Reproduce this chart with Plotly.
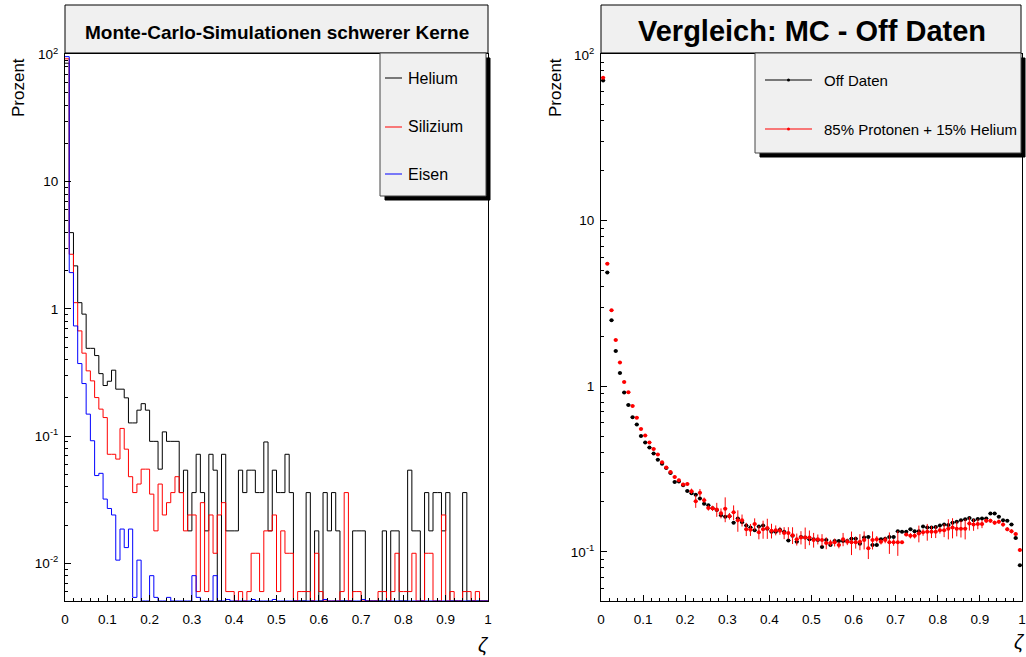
import plotly.graph_objects as go

W, H = 1026, 657

# ---------------- data (percent per bin, 100 bins of width 0.01 in zeta) ----------------
helium = [85.5, 3.98, 2.18, 1.12, 0.91, 0.49, 0.49, 0.43, 0.31, 0.25,
          0.27, 0.33, 0.234, 0.234, 0.20, 0.127, 0.127, 0.16, 0.18, 0.16,
          0.091, 0.091, 0.055, 0.108, 0.091, 0.091, 0.091, 0.036, 0.054, 0.018,
          0.036, 0.072, 0.036, 0.018, 0.072, 0.054, 0.0, 0.072, 0.018, 0.018,
          0.018, 0.054, 0.036, 0.054, 0.054, 0.036, 0.036, 0.090, 0.018, 0.054,
          0.036, 0.036, 0.072, 0.036, 0.0, 0.0, 0.0, 0.036, 0.0, 0.018,
          0.0, 0.036, 0.018, 0.036, 0.018, 0.0, 0.0, 0.0, 0.018, 0.018,
          0.018, 0.0, 0.0, 0.0, 0.0, 0.018, 0.0, 0.018, 0.018, 0.0,
          0.0, 0.054, 0.018, 0.018, 0.0, 0.036, 0.018, 0.036, 0.036, 0.018,
          0.036, 0.0, 0.0, 0.0, 0.036, 0.0, 0.0, 0.0, 0.0, 0.0]

silizium = [92.5, 2.69, 1.12, 0.672, 0.449, 0.326, 0.272, 0.201, 0.163, 0.14,
            0.072, 0.072, 0.066, 0.115, 0.079, 0.048, 0.036, 0.042, 0.055, 0.055,
            0.035, 0.018, 0.042, 0.024, 0.030, 0.036, 0.048, 0.036, 0.018, 0.024,
            0.024, 0.006, 0.030, 0.006, 0.024, 0.012, 0.024, 0.030, 0.006, 0.006,
            0.0, 0.006, 0.0, 0.006, 0.012, 0.012, 0.006, 0.018, 0.018, 0.024,
            0.006, 0.018, 0.012, 0.012, 0.0, 0.006, 0.006, 0.006, 0.0, 0.012,
            0.006, 0.0, 0.0, 0.0, 0.0, 0.006, 0.036, 0.0, 0.006, 0.006,
            0.0, 0.0, 0.0, 0.0, 0.006, 0.006, 0.0, 0.006, 0.012, 0.006,
            0.006, 0.006, 0.012, 0.0, 0.0, 0.012, 0.012, 0.0, 0.0, 0.024,
            0.0, 0.006, 0.0, 0.0, 0.006, 0.006, 0.0, 0.006, 0.0, 0.0]

eisen = [96.2, 1.93, 0.735, 0.372, 0.259, 0.149, 0.092, 0.049, 0.051, 0.032,
         0.027, 0.024, 0.0106, 0.0186, 0.0133, 0.0186, 0.0054, 0.0106, 0.0, 0.0,
         0.008, 0.0054, 0.0, 0.0, 0.0054, 0.0, 0.0, 0.0, 0.0, 0.0,
         0.008, 0.0054, 0.0, 0.0, 0.0, 0.008, 0.0, 0.0, 0.0052, 0.0,
         0.0, 0.0, 0.0, 0.0, 0.0052, 0.0, 0.0, 0.0, 0.0, 0.0052,
         0.0, 0.0, 0.0, 0.0, 0.0, 0.0, 0.0, 0.0, 0.0, 0.0,
         0.0, 0.0052, 0.0, 0.0, 0.0, 0.0, 0.0, 0.0, 0.0, 0.0,
         0.0052, 0.0, 0.0, 0.0, 0.0, 0.0, 0.0, 0.0, 0.0, 0.0,
         0.0, 0.0, 0.0, 0.0, 0.0, 0.0, 0.0, 0.0, 0.0, 0.0,
         0.0, 0.0, 0.0, 0.0, 0.0, 0.0, 0.0, 0.0, 0.0, 0.0]

off_daten = [70.0, 4.86, 2.50, 1.63, 1.20, 0.916, 0.77, 0.65, 0.586, 0.50,
             0.457, 0.426, 0.392, 0.36, 0.34, 0.32, 0.299, 0.264, 0.266, 0.252,
             0.233, 0.226, 0.221, 0.21, 0.195, 0.191, 0.183, 0.179, 0.166, 0.163,
             0.164, 0.150, 0.159, 0.151, 0.144, 0.140, 0.135, 0.142, 0.144, 0.138,
             0.132, 0.132, 0.136, 0.132, 0.117, 0.125, 0.115, 0.123, 0.122, 0.119,
             0.119, 0.118, 0.107, 0.118, 0.110, 0.116, 0.116, 0.116, 0.116, 0.120,
             0.120, 0.112, 0.122, 0.123, 0.110, 0.110, 0.119, 0.120, 0.123, 0.123,
             0.133, 0.132, 0.132, 0.137, 0.133, 0.133, 0.142, 0.140, 0.140, 0.141,
             0.144, 0.146, 0.145, 0.150, 0.152, 0.155, 0.157, 0.160, 0.155, 0.158,
             0.159, 0.159, 0.170, 0.170, 0.163, 0.155, 0.154, 0.146, 0.121, 0.083]

mc_mix = [72.8, 5.48, 2.87, 1.90, 1.39, 1.06, 0.92, 0.76, 0.645, 0.552,
          0.503, 0.457, 0.418, 0.387, 0.347, 0.323, 0.303, 0.283, 0.27, 0.255,
          0.257, 0.232, 0.202, 0.227, 0.205, 0.184, 0.183, 0.18, 0.171, 0.182,
          0.164, 0.173, 0.155, 0.155, 0.137, 0.136, 0.147, 0.131, 0.137, 0.139,
          0.134, 0.135, 0.134, 0.130, 0.130, 0.126, 0.119, 0.122, 0.122, 0.122,
          0.118, 0.119, 0.118, 0.113, 0.113, 0.114, 0.110, 0.119, 0.115, 0.114,
          0.114, 0.115, 0.118, 0.105, 0.118, 0.119, 0.115, 0.118, 0.114, 0.114,
          0.114, 0.114, 0.127, 0.125, 0.125, 0.129, 0.131, 0.132, 0.132, 0.132,
          0.135, 0.135, 0.138, 0.140, 0.138, 0.138, 0.138, 0.148, 0.146, 0.147,
          0.147, 0.154, 0.154, 0.150, 0.152, 0.146, 0.137, 0.133, 0.128, 0.1025]

mc_mix_err_pct = [0.5, 0.5, 0.5, 0.5, 0.5, 0.5, 0.9, 0.9, 0.9, 0.9,
                  1.4, 1.4, 1.4, 1.8, 1.8, 1.8, 2.3, 2.3, 2.3, 2.3,
                  2.3, 3.7, 8.8, 5.5, 3.7, 3.7, 3.7, 9.7, 6.9, 17.1,
                  4.6, 10.2, 14.8, 8.3, 9.2, 8.3, 8.3, 9.2, 12.5, 13.9,
                  10.2, 6.9, 5.5, 8.3, 8.3, 11.6, 8.3, 9.2, 14.8, 10.2,
                  10.2, 6.9, 8.3, 8.3, 4.6, 5.5, 4.6, 9.2, 4.6, 16.2,
                  8.3, 11.1, 12.5, 13.9, 12.5, 4.6, 3.7, 4.6, 14.8, 4.6,
                  17.1, 2.3, 2.3, 3.7, 3.7, 11.6, 4.6, 11.6, 8.3, 8.3,
                  4.6, 9.2, 13.9, 13.9, 10.2, 11.6, 13.9, 9.2, 8.3, 6.9,
                  5.5, 2.8, 2.8, 2.8, 2.8, 2.8, 2.8, 2.8, 2.3, 2.3]
off_err_pct = 1.5

x_ticks = [0, 0.1, 0.2, 0.3, 0.4, 0.5, 0.6, 0.7, 0.8, 0.9, 1.0]
x_ticktext = ["0", "0.1", "0.2", "0.3", "0.4", "0.5", "0.6", "0.7", "0.8", "0.9", "1"]
y_ticks = [0.01, 0.1, 1, 10, 100]
y_ticktext = ["10<sup>-2</sup>", "10<sup>-1</sup>", "1", "10", "10<sup>2</sup>"]

NBINS = 100
BINW = 0.01

# ---------------- geometry ----------------
def px(x):
    return x / W

def py(y):
    return 1 - y / H

L_X0, L_X1 = 65, 488
R_X0, R_X1 = 601, 1022
Y_TOP, Y_BOT = 54, 601
L_YLOG = [-2.296, 2.004]
R_YLOG = [-1.297, 2.005]

FONT = "Liberation Sans, Arial, Helvetica, sans-serif"

edges = [i * BINW for i in range(NBINS + 1)]
centers = [(i + 0.5) * BINW for i in range(NBINS)]
floor_left = 10 ** L_YLOG[0]

def steps(vals):
    y = [v if v > 0 else floor_left for v in vals]
    y.append(y[-1])
    return y

fig = go.Figure()

for name, vals, col in [("Helium", helium, "#000000"),
                        ("Silizium", silizium, "#ff0000"),
                        ("Eisen", eisen, "#0000ff")]:
    fig.add_trace(go.Scatter(x=edges, y=steps(vals), mode="lines",
                             line=dict(color=col, width=1, shape="hv"),
                             name=name, showlegend=False,
                             xaxis="x", yaxis="y"))

fig.add_trace(go.Scatter(
    x=centers, y=off_daten, mode="markers", name="Off Daten", showlegend=False,
    marker=dict(color="#000000", size=4),
    error_x=dict(type="constant", value=BINW / 2, color="#000000", thickness=1, width=0),
    error_y=dict(type="percent", value=off_err_pct, color="#000000", thickness=1, width=0),
    xaxis="x2", yaxis="y2"))

fig.add_trace(go.Scatter(
    x=centers, y=mc_mix, mode="markers", name="85% Protonen + 15% Helium", showlegend=False,
    marker=dict(color="#ff0000", size=4),
    error_x=dict(type="constant", value=BINW / 2, color="#ff0000", thickness=1, width=0),
    error_y=dict(type="data", array=[v * e / 100 for v, e in zip(mc_mix, mc_mix_err_pct)],
                 color="#ff0000", thickness=1, width=0),
    xaxis="x2", yaxis="y2"))

def minor_log(lo, hi):
    vals = []
    for d in range(-4, 3):
        for m in range(2, 10):
            v = m * 10 ** d
            if 10 ** lo <= v <= 10 ** hi:
                vals.append(v)
    return vals

xminor = [round(i * 0.02, 2) for i in range(51)]

def xaxis_cfg(x0, x1):
    return dict(domain=[px(x0), px(x1)], range=[0, 1], showgrid=False, zeroline=False,
                showline=True, linecolor="black", linewidth=1, mirror=True,
                ticks="inside", ticklen=6, tickwidth=1, tickcolor="black",
                tickvals=x_ticks, ticktext=x_ticktext,
                tickfont=dict(family=FONT, size=13.5, color="black"),
                ticklabelstandoff=6, automargin=False,
                minor=dict(tickvals=xminor, ticks="inside", ticklen=3, tickcolor="black", tickwidth=1),
                fixedrange=True)

def yaxis_cfg(anchor, rng):
    return dict(type="log", domain=[py(Y_BOT), py(Y_TOP)], range=rng, anchor=anchor,
                showgrid=False, zeroline=False, showline=True, linecolor="black",
                linewidth=1, mirror=True, ticks="inside", ticklen=6, tickwidth=1,
                tickcolor="black", tickvals=y_ticks, ticktext=y_ticktext,
                tickfont=dict(family=FONT, size=13.5, color="black"),
                ticklabelstandoff=3, automargin=False,
                minor=dict(tickvals=minor_log(rng[0], rng[1]), ticks="inside", ticklen=3,
                           tickcolor="black", tickwidth=1),
                fixedrange=True)

shapes = []
annotations = []

def rect(x0, y0, x1, y1, fill, line_col, lw=1):
    shapes.append(dict(type="rect", xref="paper", yref="paper",
                       x0=px(x0), x1=px(x1), y0=py(y1), y1=py(y0),
                       fillcolor=fill, line=dict(color=line_col, width=lw), layer="above"))

def text(x, y, s, size, xanchor="left", bold=False, angle=0, italic=False):
    if bold:
        s = "<b>" + s + "</b>"
    if italic:
        s = "<i>" + s + "</i>"
    annotations.append(dict(x=px(x), y=py(y), xref="paper", yref="paper", text=s,
                            showarrow=False, xanchor=xanchor, yanchor="middle",
                            textangle=angle,
                            font=dict(family=FONT, size=size, color="black")))

# titles
rect(L_X0, 5, L_X1, 53, "#f0f0f0", "black")
text((L_X0 + L_X1) / 2, 32, "Monte-Carlo-Simulationen schwerer Kerne", 19, "center", bold=True)
rect(R_X0, 5, 1021, 53, "#f0f0f0", "black")
text(812, 31, "Vergleich: MC - Off Daten", 29, "center", bold=True)

# left legend
rect(385, 58, 490, 200, "black", "black")
rect(380, 53, 486, 196, "#f0f0f0", "#444444")
for yy, lab, col in [(78, "Helium", "#000000"), (127, "Silizium", "#ff0000"), (174, "Eisen", "#0000ff")]:
    shapes.append(dict(type="line", xref="paper", yref="paper", x0=px(385), x1=px(402),
                       y0=py(yy), y1=py(yy), line=dict(color=col, width=1), layer="above"))
    text(406, yy, lab, 16)

# right legend
rect(760, 58, 1025, 157, "black", "black")
rect(755, 53, 1021, 153, "#f0f0f0", "#444444")
for yy, lab, col in [(80, "Off Daten", "#000000"), (129, "85% Protonen + 15% Helium", "#ff0000")]:
    shapes.append(dict(type="line", xref="paper", yref="paper", x0=px(765), x1=px(812),
                       y0=py(yy), y1=py(yy), line=dict(color=col, width=1), layer="above"))
    shapes.append(dict(type="circle", xref="paper", yref="paper", x0=px(787), x1=px(790),
                       y0=py(yy + 1.5), y1=py(yy - 1.5), fillcolor=col,
                       line=dict(color=col, width=0), layer="above"))
    text(822, yy, lab, 15)

# axis titles
text(18, 88, "Prozent", 17, "center", angle=-90)
text(555, 88, "Prozent", 17, "center", angle=-90)
text(483, 645, "ζ", 20, "center", italic=True)
text(1019, 642, "ζ", 20, "center", italic=True)

fig.update_layout(
    width=W, height=H, autosize=False,
    margin=dict(l=0, r=0, t=0, b=0, autoexpand=False),
    paper_bgcolor="white", plot_bgcolor="white",
    showlegend=False,
    xaxis=xaxis_cfg(L_X0, L_X1),
    yaxis=yaxis_cfg("x", L_YLOG),
    xaxis2=dict(xaxis_cfg(R_X0, R_X1), anchor="y2"),
    yaxis2=yaxis_cfg("x2", R_YLOG),
    shapes=shapes,
    annotations=annotations,
)
fig.update_layout(xaxis=dict(anchor="y"))

fig.write_html("out.html")
